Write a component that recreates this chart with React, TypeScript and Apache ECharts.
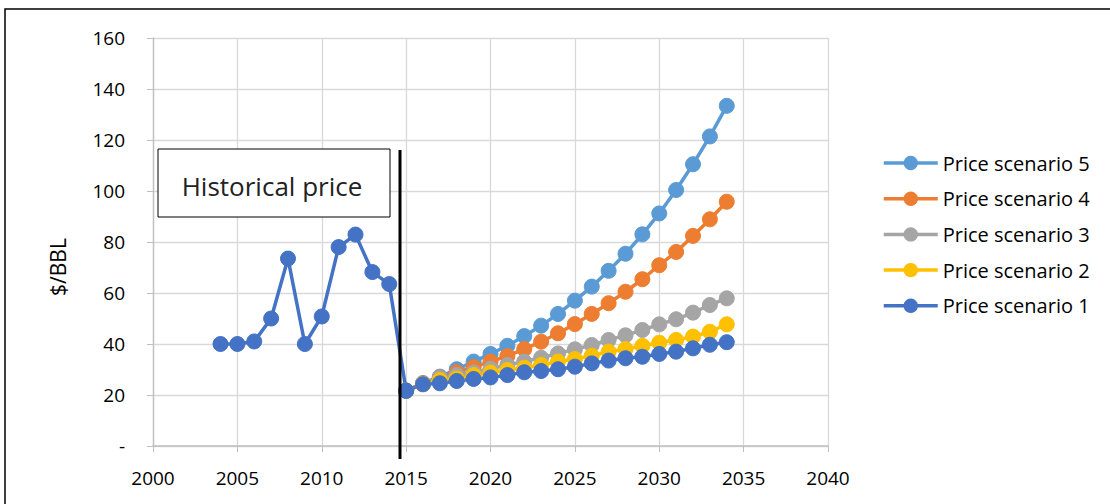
import React, { useEffect, useRef } from "react";
import * as echarts from "echarts";

const histYears = [2004, 2005, 2006, 2007, 2008, 2009, 2010, 2011, 2012, 2013, 2014, 2015];
const histPrice = [40, 40, 41, 50, 73.5, 40, 50.8, 78, 82.9, 68.2, 63.5, 21.7];

const scenYears = [2015, 2016, 2017, 2018, 2019, 2020, 2021, 2022, 2023, 2024, 2025, 2026, 2027, 2028, 2029, 2030, 2031, 2032, 2033, 2034];
const scenario1 = [21.7, 24.2, 24.6, 25.5, 26.3, 26.9, 27.8, 28.9, 29.4, 30.1, 31.1, 32.4, 33.5, 34.4, 35.0, 36.1, 37.0, 38.3, 39.7, 40.7];
const scenario2 = [21.7, 24.3, 25.9, 26.5, 27.8, 28.8, 29.8, 30.7, 31.8, 33.1, 34.1, 35.4, 37.0, 38.0, 39.3, 40.5, 41.6, 42.9, 44.8, 47.7];
const scenario3 = [21.7, 24.3, 26.8, 27.8, 28.8, 30.3, 31.8, 33.1, 34.6, 36.3, 37.9, 39.6, 41.6, 43.4, 45.5, 47.7, 49.7, 52.3, 55.3, 57.9];
const scenario4 = [21.7, 24.5, 26.9, 28.9, 30.9, 33.1, 35.3, 38.0, 40.9, 44.2, 47.8, 51.8, 56.0, 60.5, 65.4, 70.9, 76.1, 82.4, 88.9, 95.8];
const scenario5 = [21.7, 24.7, 27.2, 30.1, 33.1, 36.1, 39.3, 43.1, 47.2, 51.8, 57.0, 62.5, 68.7, 75.4, 83.0, 91.2, 100.4, 110.5, 121.4, 133.4];

const seriesNames = ["Price scenario 5", "Price scenario 4", "Price scenario 3", "Price scenario 2", "Price scenario 1"];
const seriesValues = [scenario5, scenario4, scenario3, scenario2, scenario1];
const seriesColors = ["#5B9BD5", "#ED7D31", "#A5A5A5", "#FFC000", "#4472C4"];
const histColor = "#4472C4";

const yTicksLabelZero = "-";
const FONT = "'Open Sans', 'Noto Sans', sans-serif";

export default function App() {
  const ref = useRef<HTMLDivElement>(null);
  useEffect(() => {
    if (!ref.current) return;
    const chart = echarts.init(ref.current, undefined, { renderer: "svg" });
    const lineSeries = (name: string, xs: number[], ys: number[], color: string) => ({
      name,
      type: "line",
      data: xs.map((x, i) => [x, ys[i]]),
      symbol: "circle",
      symbolSize: 15,
      lineStyle: { color, width: 3.5 },
      itemStyle: { color, borderColor: color },
      emphasis: { disabled: true },
    });
    chart.setOption({
      animation: false,
      backgroundColor: "#ffffff",
      grid: { left: 153, top: 38, width: 675, height: 408, containLabel: false },
      xAxis: {
        type: "value",
        min: 2000,
        max: 2040,
        interval: 5,
        axisLine: { show: true, lineStyle: { color: "#BFBFBF", width: 1.5 } },
        axisTick: { show: true, length: 6, inside: false, lineStyle: { color: "#BFBFBF" } },
        splitLine: { show: true, lineStyle: { color: "#D9D9D9", width: 1.3 } },
        axisLabel: {
          color: "#000",
          fontSize: 19,
          fontFamily: FONT,
          margin: 22,
          formatter: (v: number) => String(v),
        },
      },
      yAxis: {
        type: "value",
        min: 0,
        max: 160,
        interval: 20,
        axisLine: { show: true, lineStyle: { color: "#BFBFBF", width: 1.3 } },
        axisTick: { show: true, length: 6, lineStyle: { color: "#BFBFBF" } },
        splitLine: { show: true, lineStyle: { color: "#D9D9D9", width: 1.3 } },
        axisLabel: {
          color: "#000",
          fontSize: 19,
          fontFamily: FONT,
          margin: 28,
          formatter: (v: number) => (v === 0 ? yTicksLabelZero : String(v)),
        },
      },
      legend: {
        orient: "vertical",
        left: 877,
        top: 148,
        itemWidth: 54,
        itemHeight: 18,
        itemGap: 15.7,
        data: seriesNames,
        lineStyle: { width: 3.5 },
        textStyle: { color: "#000", fontSize: 20, fontFamily: FONT },
        selectedMode: false,
      },
      series: [
        ...seriesNames.map((n, i) => lineSeries(n, scenYears, seriesValues[i], seriesColors[i])),
        lineSeries("Historical", histYears, histPrice, histColor),
      ],
      graphic: [
        {
          type: "rect",
          shape: { x: 5, y: 9, width: 1200, height: 600 },
          style: { fill: "none", stroke: "#000", lineWidth: 1.5 },
          silent: true,
          z: 100,
        },
        {
          type: "text",
          x: 58,
          y: 267,
          rotation: Math.PI / 2,
          style: {
            text: "$/BBL",
            fontSize: 21,
            fontFamily: FONT,
            fill: "#000",
            align: "center",
            verticalAlign: "middle",
          },
        },
        {
          type: "rect",
          shape: { x: 158, y: 149, width: 232, height: 68 },
          style: { fill: "#fff", stroke: "#000", lineWidth: 1 },
          z: 50,
        },
        {
          type: "text",
          x: 272,
          y: 186,
          style: {
            text: "Historical price",
            fontSize: 26,
            fontFamily: FONT,
            fill: "#222",
            align: "center",
            verticalAlign: "middle",
          },
          z: 51,
        },
        {
          type: "line",
          shape: { x1: 400, y1: 150, x2: 400, y2: 459 },
          style: { stroke: "#000", lineWidth: 3 },
          z: 60,
        },
      ],
    });
    return () => chart.dispose();
  }, []);
  return (
    <div
      ref={ref}
      style={{ position: "fixed", left: 0, top: 0, width: 1110, height: 504 }}
    />
  );
}
